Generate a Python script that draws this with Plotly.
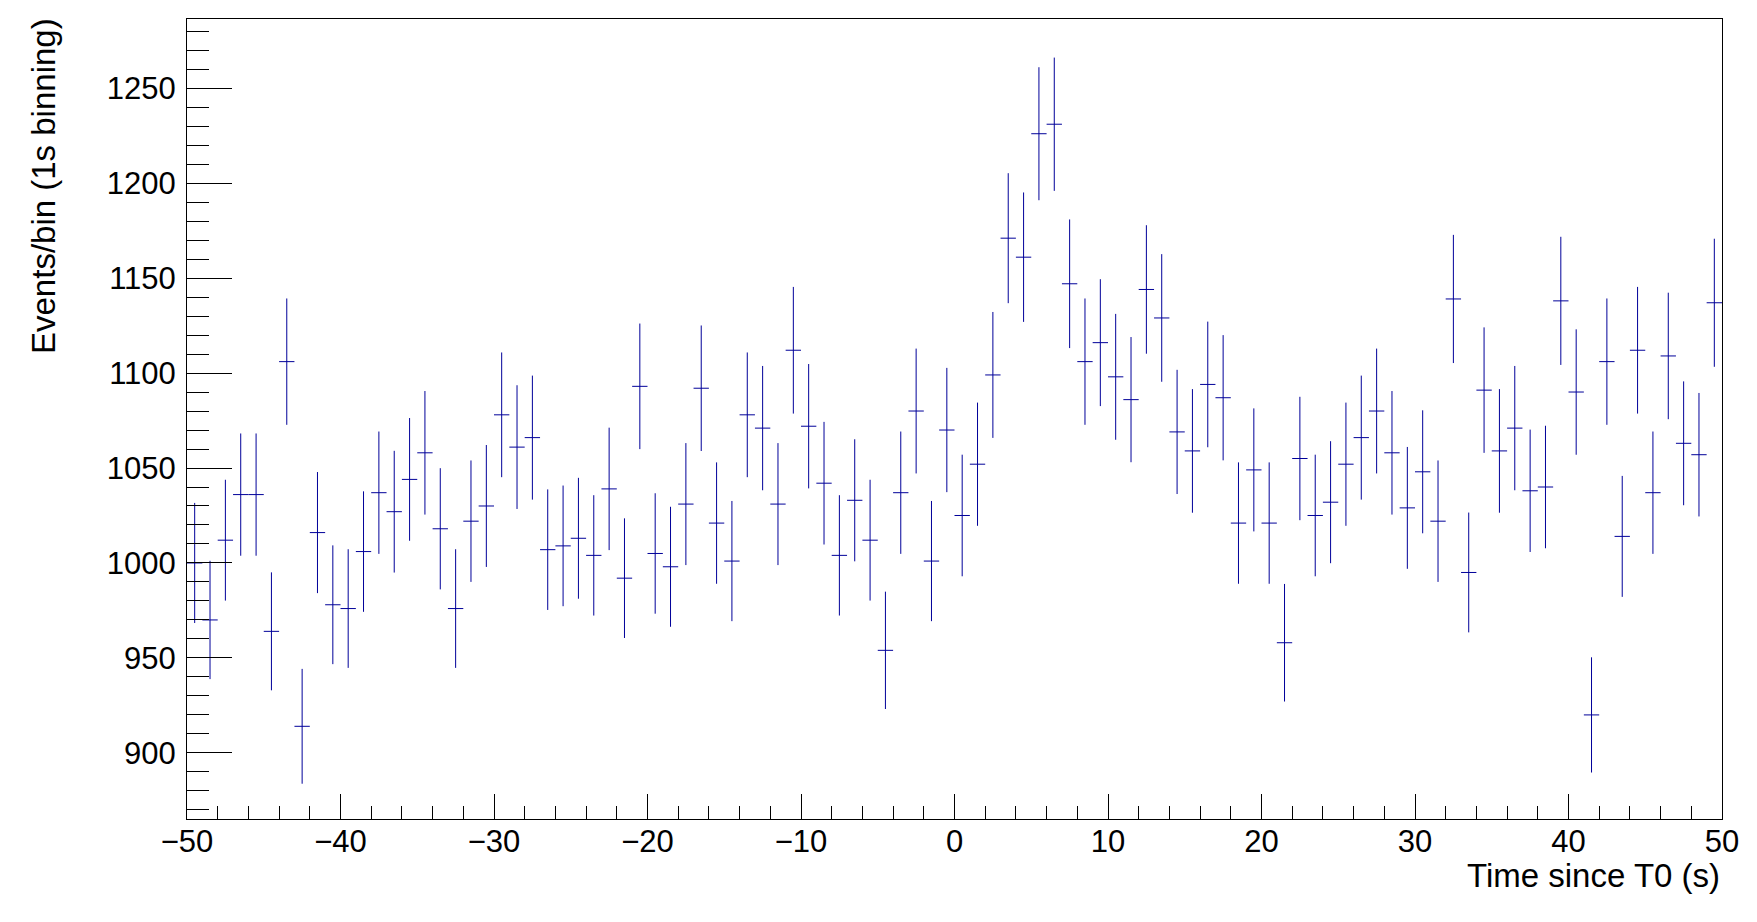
import numpy as np
import plotly.graph_objects as go

# Bin centres (1 s bins from -50 to 50)
bin_centers = [x + 0.5 for x in range(-50, 50)]

# Counts per bin
counts = [
    1000, 970, 1012, 1036, 1036, 964, 1106, 914, 1016, 978,
    976, 1006, 1037, 1027, 1044, 1058, 1018, 976, 1022, 1030,
    1078, 1061, 1066, 1007, 1009, 1013, 1004, 1039, 992, 1093,
    1005, 998, 1031, 1092, 1021, 1001, 1078, 1071, 1031, 1112,
    1072, 1042, 1004, 1033, 1012, 954, 1037, 1080, 1001, 1070,
    1025, 1052, 1099, 1171, 1161, 1226, 1231, 1147, 1106, 1116,
    1098, 1086, 1144, 1129, 1069, 1059, 1094, 1087, 1021, 1049,
    1021, 958, 1055, 1025, 1032, 1052, 1066, 1080, 1058, 1029,
    1048, 1022, 1139, 995, 1091, 1059, 1071, 1038, 1040, 1138,
    1090, 920, 1106, 1014, 1112, 1037, 1109, 1063, 1057, 1137,
]

errors = list(np.sqrt(np.array(counts, dtype=float)))

x_tickvals = [-50, -40, -30, -20, -10, 0, 10, 20, 30, 40, 50]
y_tickvals = [900, 950, 1000, 1050, 1100, 1150, 1200, 1250]

x_title = "Time since T0 (s)"
y_title = "Events/bin (1s binning)"

LINE_COLOR = "#000099"
FONT = "Liberation Sans, Arial, Helvetica, sans-serif"

fig = go.Figure()
fig.add_trace(go.Scatter(
    x=bin_centers,
    y=counts,
    mode="markers",
    marker=dict(size=0.1, color=LINE_COLOR, opacity=0),
    error_x=dict(type="constant", value=0.5, width=0, thickness=1, color=LINE_COLOR),
    error_y=dict(type="data", array=errors, width=0, thickness=1, color=LINE_COLOR),
    showlegend=False,
    hoverinfo="x+y",
))

fig.update_layout(
    width=1757,
    height=922,
    margin=dict(l=179, r=43, t=11, b=111),
    paper_bgcolor="white",
    plot_bgcolor="white",
    font=dict(family=FONT, size=31, color="black"),
    showlegend=False,
)

fig.update_xaxes(
    range=[-50, 50],
    tickmode="array",
    tickvals=x_tickvals,
    ticks="inside",
    ticklen=25,
    tickwidth=1,
    tickcolor="black",
    showline=True,
    linecolor="black",
    linewidth=1,
    mirror=True,
    showgrid=False,
    zeroline=False,
    ticklabelstandoff=-5,
    tickfont=dict(family=FONT, size=31, color="black"),
    minor=dict(ticks="inside", ticklen=13, tickwidth=1, tickcolor="black",
               tickmode="linear", tick0=-50, dtick=2, showgrid=False),
)

fig.update_yaxes(
    range=[865.2, 1286.4],
    tickmode="array",
    tickvals=y_tickvals,
    ticks="inside",
    ticklen=45,
    tickwidth=1,
    tickcolor="black",
    showline=True,
    linecolor="black",
    linewidth=1,
    mirror=True,
    showgrid=False,
    zeroline=False,
    ticklabelstandoff=4,
    tickfont=dict(family=FONT, size=31, color="black"),
    minor=dict(ticks="inside", ticklen=22, tickwidth=1, tickcolor="black",
               tickmode="linear", tick0=900, dtick=10, showgrid=False),
)

fig.add_annotation(
    text=x_title, xref="paper", yref="paper", x=1, y=0,
    xanchor="right", yanchor="top", yshift=-36, showarrow=False,
    font=dict(family=FONT, size=33, color="black"),
)
fig.add_annotation(
    text=y_title, xref="paper", yref="paper", x=0, y=1,
    xanchor="center", yanchor="top", xshift=-144, yshift=3, showarrow=False,
    textangle=-90,
    font=dict(family=FONT, size=33, color="black"),
)

fig.write_html("out.html")
